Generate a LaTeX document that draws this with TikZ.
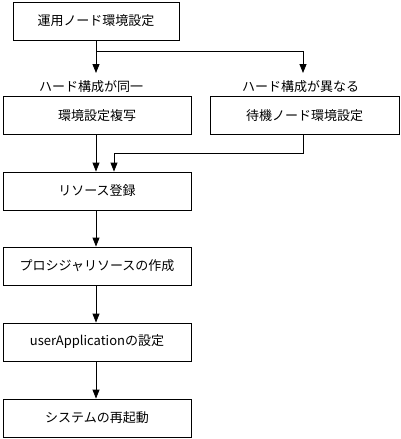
\documentclass[tikz,border=0pt]{standalone}
\usepackage{fontspec}
\setmainfont{Noto Sans CJK JP}
\usepackage{tikz}
\usetikzlibrary{positioning,arrows.meta}

\begin{document}
\begin{tikzpicture}[x=1pt,y=-1pt,line width=.8pt,>={Triangle[width=7pt,length=9pt]},
  box/.style={draw,minimum width=188pt,minimum height=38pt,inner sep=0pt,font=\fontsize{13}{15}\selectfont},
  lbl/.style={inner sep=1pt,font=\fontsize{13}{15}\selectfont}]
\useasboundingbox (0,0) rectangle (400,439);
\node[box,minimum width=166pt] (setup) at (96,21) {運用ノード環境設定};
\node[box] (copy) at (97,115.5) {環境設定複写};
\node[box,minimum width=189pt] (standby) at (304.5,115.5) {待機ノード環境設定};
\node[lbl] (same) at (91,87) {ハード構成が同一};
\node[lbl] (diff) at (300.5,87) {ハード構成が異なる};
\node[box] (regist) at (97,191) {リソース登録};
\node[box] (proc) at (97,266) {プロシジャリソースの作成};
\node[box] (userapp) at (97,342) {userApplicationの設定};
\node[box] (reboot) at (97,418) {システムの再起動};
% branch
\coordinate (fork) at (96,51);
\coordinate (tipA) at (96,73);
\coordinate (tipB) at (303,73);
\coordinate (join) at (303,153);
\draw (setup.south -| fork) -- (fork);
\draw[->] (fork) -- (tipA);
\draw[->] (fork) -| (tipB);
% merge
\draw[->] (copy.south -| fork) -- (regist.north -| fork);
\draw[->] (standby.south -| join) -- (join) -| ([xshift=18pt]regist.north -| fork);
% main flow
\draw[->] (regist.south -| fork) -- (proc.north -| fork);
\draw[->] (proc.south -| fork) -- (userapp.north -| fork);
\draw[->] (userapp.south -| fork) -- (reboot.north -| fork);
\end{tikzpicture}
\end{document}
